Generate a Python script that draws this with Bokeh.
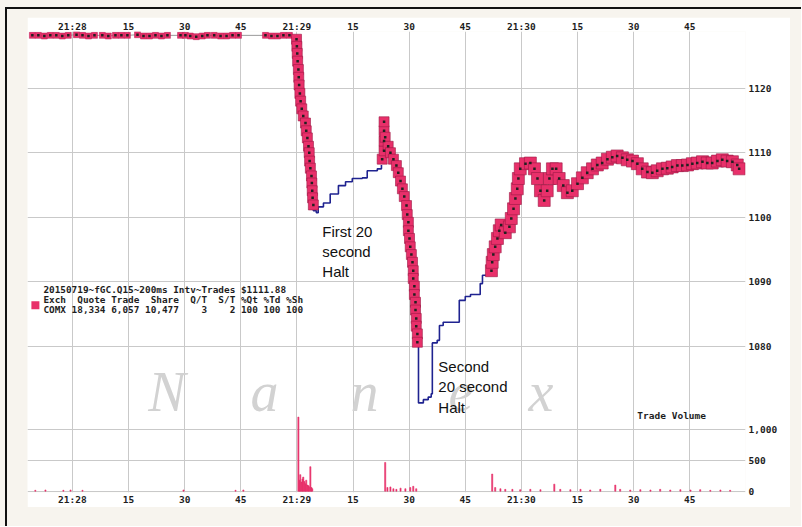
from bokeh.plotting import figure
from bokeh.models import Range1d, LinearAxis, FixedTicker, NumeralTickFormatter, Label, BoxAnnotation
from bokeh.layouts import column
from bokeh.embed import file_html
from bokeh.resources import INLINE

# ---- data (time = seconds after 21:28:00, price in $) ----
x_ticks = [0, 15, 30, 45, 60, 75, 90, 105, 120, 135, 150, 165]
x_tick_labels = ["21:28", "15", "30", "45", "21:29", "15", "30", "45", "21:30", "15", "30", "45"]
price_ticks = [1080, 1090, 1100, 1110, 1120]
vol_ticks = [0, 500, 1000]
vol_tick_labels = ["0", "500", "1,000"]

pre_t = [-10.7, -9.1, -7.5, -5.9, -4.3, -2.7, -1.1, 1.1, 2.7, 4.3, 5.9, 8.0, 9.6, 11.5, 13.1, 14.7,
         17.4, 19.0, 20.6, 22.2, 23.8, 25.4, 28.9, 30.2, 31.5, 33.1, 34.7, 36.1, 37.9, 39.6, 41.2,
         42.8, 44.4, 51.6, 53.2, 54.8, 56.4, 58.0]
pre_px = [1128.2, 1128.2, 1128.1, 1128.2, 1128.2, 1128.1, 1128.2, 1128.3, 1128.2, 1128.1, 1128.2,
          1128.2, 1128.1, 1128.2, 1128.2, 1128.2, 1128.3, 1128.1, 1128.1, 1128.2, 1128.1, 1128.2,
          1128.2, 1128.2, 1128.1, 1128.0, 1128.1, 1128.2, 1128.2, 1128.1, 1128.1, 1128.2, 1128.2,
          1128.2, 1128.1, 1128.1, 1128.2, 1128.2]

fall1_t = [59.9, 60.0, 60.1, 60.2, 60.4, 60.5, 60.6, 60.8, 61.0, 61.3, 61.7, 62.3, 62.5, 62.8,
           63.1, 63.3, 63.4, 63.6, 63.9, 64.0, 64.1, 64.2, 64.4]
fall1_px = [1127.6, 1126.5, 1125.4, 1124.2, 1122.9, 1121.7, 1120.5, 1119.2, 1118.0, 1116.8, 1115.7,
            1114.6, 1113.4, 1112.3, 1111.0, 1110.0, 1108.7, 1107.6, 1106.4, 1105.3, 1104.1, 1103.0,
            1101.9]

halt1_t = [64.4, 64.4, 65.2, 65.7, 67.1, 68.9, 71.1, 73.0, 74.8, 77.5, 78.8, 81.5, 82.6]
halt1_px = [1101.9, 1101.0, 1100.7, 1101.6, 1102.2, 1103.6, 1104.9, 1105.5, 1106.0, 1106.1,
            1107.2, 1107.5, 1108.1]

fall2_t = [82.8, 83.3, 83.3, 83.3, 83.3, 83.6, 84.4, 85.0, 85.8, 86.6, 87.1, 87.7, 88.2, 88.7,
           89.3, 89.5, 89.8, 89.8, 90.1, 90.3, 90.6, 90.9, 91.1, 91.1, 91.4, 91.4, 91.7, 91.7,
           91.9, 91.9, 92.2, 92.2]
fall2_px = [1109.0, 1110.3, 1111.8, 1113.4, 1114.8, 1112.4, 1111.0, 1110.0, 1109.0, 1108.0,
            1106.9, 1105.6, 1104.4, 1103.2, 1101.8, 1100.4, 1099.2, 1097.9, 1096.7, 1095.4,
            1094.2, 1093.0, 1091.7, 1090.5, 1089.3, 1088.0, 1086.8, 1085.6, 1084.3, 1083.1,
            1081.9, 1080.6]

halt2_t = [92.2, 92.5, 93.8, 95.1, 95.9, 96.2, 97.5, 98.1, 99.1, 103.4, 105.0, 106.4, 109.0,
           109.6, 111.7]
halt2_px = [1080.5, 1071.2, 1071.7, 1072.1, 1072.6, 1080.5, 1080.9, 1083.2, 1083.7, 1087.1,
            1087.7, 1088.0, 1089.7, 1091.0, 1091.1]

rally_t = [112.0, 112.2, 112.5, 113.0, 113.6, 114.1, 114.6, 115.7, 116.8, 117.3, 117.9, 118.4,
           118.9, 119.2, 119.7, 121.1, 122.4, 123.5, 124.3, 125.1, 126.1, 126.9, 127.5, 128.3,
           129.3, 130.1, 131.2, 132.3, 133.6, 135.0, 136.3, 137.6, 139.0, 140.3, 141.6, 143.0,
           144.3, 145.6, 147.0, 148.3, 149.7, 151.0, 152.3, 153.7, 155.0, 156.3, 157.7, 159.0,
           160.3, 161.7, 163.0, 164.4, 165.7, 167.0, 168.4, 169.7, 171.0, 172.4, 173.7, 175.0,
           176.4, 177.7, 178.2]
rally_px = [1091.7, 1093.0, 1094.2, 1095.4, 1096.7, 1097.9, 1098.8, 1097.6, 1098.5, 1099.8,
            1101.3, 1102.9, 1104.4, 1106.0, 1107.5, 1108.3, 1108.4, 1107.5, 1106.0, 1104.1,
            1102.6, 1104.1, 1106.0, 1107.5, 1107.5, 1106.0, 1104.9, 1103.8, 1104.1, 1105.2,
            1106.1, 1106.9, 1107.5, 1108.1, 1108.4, 1109.0, 1109.3, 1109.5, 1109.2, 1108.9,
            1108.7, 1108.3, 1107.5, 1107.0, 1106.9, 1107.2, 1107.5, 1107.6, 1107.8, 1108.0,
            1108.0, 1108.1, 1108.3, 1108.4, 1108.6, 1108.4, 1108.4, 1108.7, 1108.9, 1108.7,
            1108.6, 1108.1, 1107.5]

vol_t = [-9.9, -7.2, -2.4, -0.5, 2.7, 29.7, 43.6, 45.7,
         60.4, 60.7, 60.9, 61.2, 61.5, 61.7, 62.0, 62.3, 62.5, 62.8, 63.1, 63.3, 63.6, 63.9, 64.1,
         83.6, 84.2, 85.0, 85.8, 86.6, 87.7, 89.0, 90.3, 91.1, 91.9,
         112.2, 113.0, 114.4, 115.7, 117.6, 119.7, 122.4, 125.1, 128.8, 130.4, 133.1, 135.8,
         138.4, 141.1, 145.1, 146.4, 149.1, 151.8, 154.5, 157.1, 159.8, 162.5, 165.2, 167.8,
         170.5, 173.2, 175.8]
vol_qty = [15, 20, 15, 20, 15, 20, 15, 20,
           1210, 180, 270, 150, 200, 230, 160, 120, 180, 100, 90, 70, 400, 60, 40,
           470, 60, 70, 40, 30, 50, 40, 60, 80, 40,
           280, 60, 40, 30, 30, 25, 30, 25, 115, 30, 25, 30,
           20, 30, 100, 30, 20, 25, 20, 30, 20, 25, 20, 25,
           15, 20, 15]

legend_lines = ["20150719~fGC.Q15~200ms Intv~Trades $1111.88",
                "Exch  Quote Trade  Share  Q/T  S/T %Qt %Td %Sh",
                "COMX 18,334 6,057 10,477    3    2 100 100 100"]
watermark = ["N", "a", "n", "e", "x"]

# ---- layout constants ----
PINK = "#e8306a"
NAVY = "#1f2390"
P_LO, P_HI = 1057.3, 1128.8
VOL0_AT, VOL1000_AT = 1057.5, 1067.0        # price-axis positions of volume 0 and 1,000
k = (VOL1000_AT - VOL0_AT) / 1000.0
vol_lo, vol_hi = (P_LO - VOL0_AT) / k, (P_HI - VOL0_AT) / k
vol_tick_pos = [VOL0_AT + v * k for v in vol_ticks]

fig = figure(width=763, height=490, output_backend="svg", toolbar_location=None,
             x_range=Range1d(-12.0, 179.9), y_range=Range1d(P_LO, P_HI),
             y_axis_location="right",
             min_border_left=0, min_border_right=45, min_border_top=13, min_border_bottom=14,
             border_fill_color="white", background_fill_color="white", outline_line_color=None)
fig.extra_y_ranges = {"vol": Range1d(vol_lo, vol_hi)}
fig.margin = (17, 11, 19, 27)

xt = FixedTicker(ticks=x_ticks, minor_ticks=[])
yt = FixedTicker(ticks=vol_tick_pos + price_ticks, minor_ticks=[])
x_over = {t: l for t, l in zip(x_ticks, x_tick_labels)}
y_over = {t: l for t, l in zip(vol_tick_pos, vol_tick_labels)}


def style_axis(ax, standoff):
    ax.axis_line_color = None
    ax.major_tick_line_color = None
    ax.minor_tick_line_color = None
    ax.major_tick_out = 0
    ax.major_tick_in = 0
    ax.minor_tick_out = 0
    ax.minor_tick_in = 0
    ax.major_label_text_font = "DejaVu Sans Mono"
    ax.major_label_text_font_size = "9.5px"
    ax.major_label_text_font_style = "bold"
    ax.major_label_text_color = "#1e1e1e"
    ax.major_label_standoff = standoff


bx = fig.xaxis[0]
bx.ticker = xt
bx.major_label_overrides = x_over
style_axis(bx, 1)
top = LinearAxis(ticker=xt, major_label_overrides=x_over)
style_axis(top, 0)
fig.add_layout(top, "above")

ry = fig.yaxis[0]
ry.ticker = yt
ry.formatter = NumeralTickFormatter(format="0")
ry.major_label_overrides = y_over
style_axis(ry, 3)

fig.xgrid.ticker = xt
fig.ygrid.ticker = yt
for g in (fig.xgrid, fig.ygrid):
    g.grid_line_color = "#c9c9c9"
    g.grid_line_width = 1

# watermark
wm_x = [20.3, 47.6, 74.3, 100.5, 121.9]
for ch, xv in zip(watermark, wm_x):
    fig.add_layout(Label(x=xv, y=1072.9, text=ch, text_font="Liberation Serif",
                         text_font_style="italic", text_font_size="56px",
                         text_color="#d2d2d2", text_baseline="alphabetic", level="underlay"))

# volume
fig.vbar(x=vol_t, top=vol_qty, bottom=0, width=0.3, y_range_name="vol",
         fill_color=PINK, line_color=PINK, line_width=0.6)

# trading-path connectors
for tx, ty in ((pre_t + fall1_t, pre_px + fall1_px), (fall2_t, fall2_px), (rally_t, rally_px)):
    fig.line(tx, ty, line_color="#9a9a9a", line_width=1)

# halts (blue steps)
fig.step(halt1_t, halt1_px, mode="after", line_color=NAVY, line_width=1.6)
fig.step(halt2_t, halt2_px, mode="after", line_color=NAVY, line_width=1.6)

# trades
fig.scatter(pre_t, pre_px, marker="square", size=6, fill_color=PINK,
            line_color="#b81f52", line_width=0.5)
fig.scatter(fall1_t, fall1_px, marker="square", size=10, fill_color=PINK,
            line_color="#9c1a45", line_width=0.6)
fig.scatter(fall2_t, fall2_px, marker="square", size=10, fill_color=PINK,
            line_color="#9c1a45", line_width=0.6)
fig.scatter(rally_t, rally_px, marker="square", size=12, fill_color=PINK,
            line_color="#9c1a45", line_width=0.6)
for tx, ty in ((pre_t, pre_px), (fall1_t, fall1_px), (fall2_t, fall2_px), (rally_t, rally_px)):
    fig.scatter(tx, ty, marker="square", size=2.5, fill_color="#202020", line_color=None)

# legend block (non-breaking spaces keep the column alignment in SVG)
legend_text = "\n".join(s.replace(" ", "\u00a0") for s in legend_lines)
fig.add_layout(Label(x=-7.75, y=1089.6, text=legend_text, text_font="DejaVu Sans Mono",
                     text_font_style="bold", text_font_size="9.4px", text_color="#1e1e1e",
                     text_baseline="top", text_line_height=0.92))
fig.add_layout(BoxAnnotation(left=-10.96, right=-8.82, top=1086.95, bottom=1085.71,
                             fill_color=PINK, fill_alpha=1.0, line_color=None))

fig.add_layout(Label(x=151.0, y=1069.2, text="Trade\u00a0Volume", text_font="DejaVu Sans Mono",
                     text_font_style="bold", text_font_size="9.5px", text_color="#1e1e1e",
                     text_baseline="middle"))

fig.add_layout(Label(x=66.8, y=1099.15, text="First 20\nsecond\nHalt", text_font="Liberation Sans",
                     text_font_size="15px", text_color="#111111", text_baseline="top",
                     text_line_height=1.2))
fig.add_layout(Label(x=97.8, y=1078.15, text="Second\n20 second\nHalt", text_font="Liberation Sans",
                     text_font_size="15px", text_color="#111111", text_baseline="top",
                     text_line_height=1.2))

p = column(fig, styles={"background-color": "#f7f4ee",
                        "background-image": "linear-gradient(#111111, #111111), linear-gradient(#111111, #111111)",
                        "background-size": "2px 100%, 100% 2px",
                        "background-position": "5px 7px, 5px 7px",
                        "background-repeat": "no-repeat"})

open("out.html", "w").write(file_html(p, INLINE))
